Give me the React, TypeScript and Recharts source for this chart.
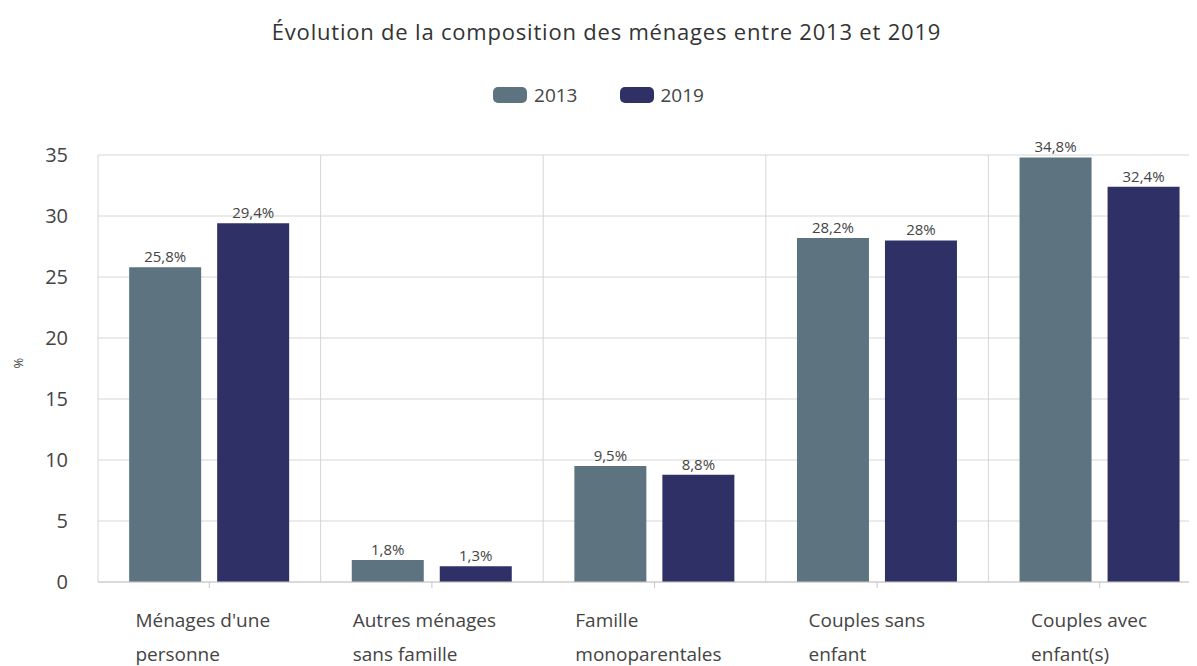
import { BarChart, Bar, XAxis, YAxis, CartesianGrid, LabelList } from 'recharts';

const categories = [
    ["Ménages d'une", 'personne'],
    ['Autres ménages', 'sans famille'],
    ['Famille', 'monoparentales'],
    ['Couples sans', 'enfant'],
    ['Couples avec', 'enfant(s)'],
];
const values2013 = [25.8, 1.8, 9.5, 28.2, 34.8];
const values2019 = [29.4, 1.3, 8.8, 28, 32.4];
const yTicks = [0, 5, 10, 15, 20, 25, 30, 35];

const C2013 = '#5d7380';
const C2019 = '#2f3065';
const FONT = '"Open Sans", sans-serif';

const data = categories.map((lines, i) => ({
    name: lines.join(' '),
    lines,
    y2013: values2013[i],
    y2019: values2019[i],
}));

function fmt(v: any) {
    return `${String(v).replace('.', ',')}%`;
}

// left-aligned two-line label, block roughly centred under the category
function CategoryTick({ x, y, payload, index }: any) {
    const lines: string[] = data[index]?.lines ?? [payload.value];
    const longest = Math.max(...lines.map(l => l.length));
    const left = x - (longest * 10.6) / 2 - 5;
    return (
        <g>
            {lines.map((l, i) => (
                <text key={i} x={left} y={y + 37 + i * 34} fill="#444" fontSize={19} fontFamily={FONT} textAnchor="start">
                    {l}
                </text>
            ))}
        </g>
    );
}

export default function App() {
    return (
        <div style={{ position: 'relative', width: 1189, height: 658, overflow: 'hidden', fontFamily: FONT }}>
            <div style={{ position: 'absolute', top: 8, left: 0, width: 1197, textAlign: 'center', fontSize: 22, letterSpacing: 0.8, color: '#333' }}>
                Évolution de la composition des ménages entre 2013 et 2019
            </div>
            <div style={{ position: 'absolute', top: 74, left: -8, width: 1197, display: 'flex', justifyContent: 'center', gap: 42, fontSize: 19, color: '#444' }}>
                {[['2013', C2013], ['2019', C2019]].map(([label, color]) => (
                    <div key={label} style={{ display: 'flex', alignItems: 'center', gap: 7 }}>
                        <span style={{ display: 'inline-block', width: 34, height: 16, borderRadius: 5, background: color }} />
                        <span>{label}</span>
                    </div>
                ))}
            </div>
            <BarChart
                width={1203}
                height={658}
                data={data}
                margin={{ top: 147, right: 0, bottom: 0, left: 0 }}
                barCategoryGap="14%"
                barGap={16}
            >
                <CartesianGrid
                    stroke="#d6d6d6"
                    verticalCoordinatesGenerator={({ offset }: any) =>
                        categories.map((_, i) => offset.left + (i * offset.width) / categories.length).concat(offset.left + offset.width)
                    }
                />
                <XAxis
                    dataKey="name"
                    height={84}
                    stroke="#c8c8c8"
                    tickSize={6}
                    interval={0}
                    tick={<CategoryTick />}
                />
                <YAxis
                    width={90}
                    domain={[0, 35]}
                    ticks={yTicks}
                    axisLine={false}
                    tickLine={false}
                    tickSize={0}
                    tickMargin={30}
                    tick={{ fill: '#444', fontSize: 20, fontFamily: FONT }}
                    label={{ value: '%', angle: -90, position: 'insideLeft', offset: 0, dx: 10, fill: '#444', fontSize: 13 }}
                />
                <Bar dataKey="y2013" name="2013" fill={C2013} isAnimationActive={false}>
                    <LabelList dataKey="y2013" position="top" offset={5} formatter={fmt} fill="#444" fontSize={15} fontFamily={FONT} />
                </Bar>
                <Bar dataKey="y2019" name="2019" fill={C2019} isAnimationActive={false}>
                    <LabelList dataKey="y2019" position="top" offset={5} formatter={fmt} fill="#444" fontSize={15} fontFamily={FONT} />
                </Bar>
            </BarChart>
        </div>
    );
}
